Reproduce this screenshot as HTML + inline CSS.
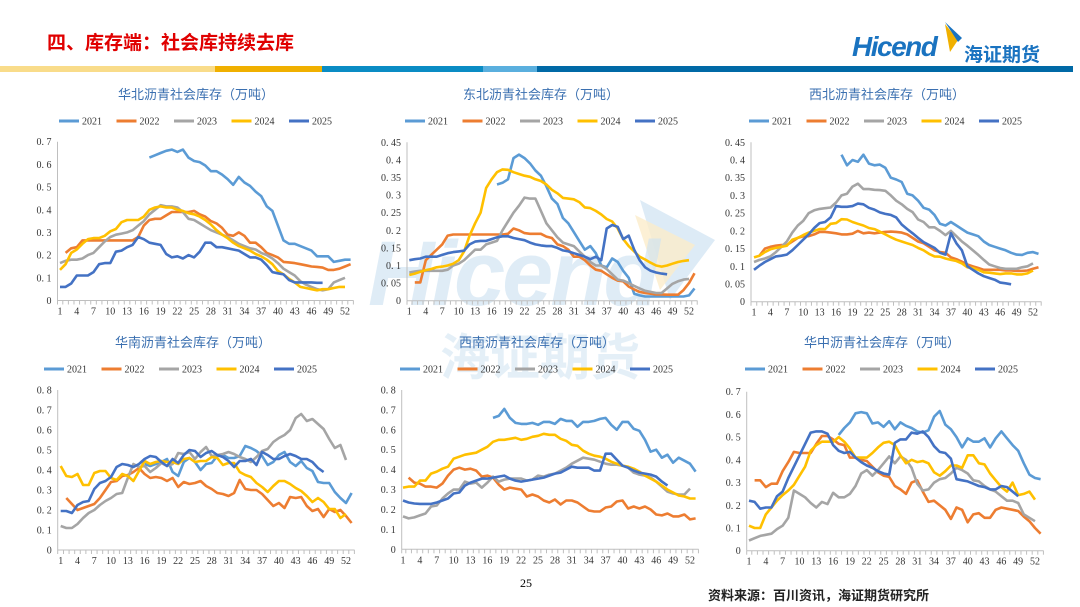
<!DOCTYPE html>
<html><head><meta charset="utf-8">
<style>
body{margin:0;width:1080px;height:607px;overflow:hidden;background:#fff;font-family:"Liberation Sans","Noto Sans CJK SC",sans-serif;position:relative}
.abs{position:absolute}
svg{position:absolute;left:0;top:0}
</style></head><body>
<div class="abs" style="left:47px;top:28px;font-size:19px;font-weight:bold;color:#e00000;font-family:'Liberation Sans','Noto Sans CJK SC',sans-serif">四、库存端：社会库持续去库</div>
<div class="abs" style="left:852px;top:31px;font-size:28px;font-weight:bold;font-style:italic;color:#1a73c0;letter-spacing:-1.5px">Hicend</div>
<svg width="1080" height="607" style="pointer-events:none"><polygon points="945,24 958,40 950,52" fill="#f0b000"/><polygon points="945,22 962,38 958,42" fill="#1a73c0"/></svg>
<div class="abs" style="left:964px;top:40px;font-size:19px;font-weight:bold;color:#1a73c0">海证期货</div>
<div class="abs" style="left:0;top:66px;width:1073px;height:6px;background:linear-gradient(90deg,#f9dc8a 0 215px,#f0b000 215px 322px,#0a8cc4 322px 483px,#5aafde 483px 537px,#0069a6 537px)"></div>
<svg width="1080" height="607" style="pointer-events:none"><polygon points="640,200 715,240 670,300" fill="#cfe3f2" opacity="0.7"/><polygon points="635,215 695,245 660,290" fill="#fbeccb" opacity="0.8"/></svg>
<div class="abs" style="left:368px;top:222px;font-size:92px;font-weight:bold;font-style:italic;color:#cfe3f2;opacity:0.65;letter-spacing:-3px">Hicend</div>
<div class="abs" style="left:440px;top:318px;font-size:50px;font-weight:bold;color:#d7e8f4;opacity:0.65">海证期货</div>
<div class="abs" style="left:520px;top:576px;font-size:12px;font-family:'Liberation Serif',serif">25</div>
<div class="abs" style="left:708px;top:585px;font-size:13px;font-weight:bold;color:#222">资料来源：百川资讯，海证期货研究所</div>
<svg id="chart" width="1080" height="607"></svg>
<script>
const years=['2021','2022','2023','2024','2025'];
const colors=['#5b9bd5','#ed7d31','#a5a5a5','#ffc000','#4472c4'];
const xTickLabels=[1,4,7,10,13,16,19,22,25,28,31,34,37,40,43,46,49,52];
const hbStart=[17,2,1,1,1];
const hb21=[.63,.64,.65,.66,.665,.655,.665,.63,.615,.61,.595,.57,.57,.555,.535,.51,.545,.52,.505,.48,.46,.415,.395,.33,.265,.25,.25,.24,.23,.22,.195,.195,.195,.17,.175,.18,.18];
const hb22=[.21,.23,.235,.265,.265,.265,.265,.265,.265,.265,.265,.265,.265,.28,.33,.355,.36,.36,.375,.39,.39,.39,.39,.395,.38,.37,.35,.34,.32,.29,.285,.3,.285,.255,.255,.235,.21,.2,.19,.17,.168,.165,.16,.155,.15,.148,.145,.135,.135,.14,.15,.16];
const hb23=[.165,.175,.18,.18,.185,.2,.21,.235,.26,.28,.29,.295,.3,.31,.33,.35,.38,.4,.42,.415,.415,.41,.39,.36,.355,.34,.325,.31,.3,.29,.28,.265,.25,.24,.23,.225,.21,.2,.185,.165,.14,.125,.11,.085,.07,.06,.05,.045,.05,.08,.09,.1];
const hb24=[.135,.16,.21,.225,.25,.27,.275,.275,.285,.305,.315,.345,.355,.355,.355,.37,.4,.41,.415,.41,.41,.4,.395,.385,.38,.37,.355,.335,.31,.29,.275,.255,.24,.23,.22,.205,.195,.18,.16,.13,.115,.095,.08,.06,.055,.05,.045,.05,.05,.055,.06,.06];
const hb25=[.06,.06,.075,.11,.11,.11,.125,.16,.165,.165,.215,.22,.235,.245,.28,.27,.255,.25,.245,.205,.19,.195,.185,.2,.19,.215,.255,.255,.235,.235,.23,.225,.22,.205,.19,.19,.18,.155,.125,.12,.115,.09,.08,.08,.08,.08,.078,.078];
const dbStart=[17,2,1,1,1];
const db21=[.33,.335,.345,.405,.415,.405,.39,.37,.355,.325,.29,.275,.235,.22,.195,.17,.145,.155,.135,.1,.095,.12,.11,.085,.065,.02,.015,.012,.012,.012,.012,.012,.012,.012,.012,.015,.035];
const db22=[.052,.052,.115,.13,.145,.16,.185,.188,.188,.188,.188,.188,.188,.188,.188,.188,.188,.19,.205,.2,.192,.19,.19,.19,.182,.178,.16,.155,.145,.125,.125,.115,.1,.088,.085,.075,.065,.057,.055,.04,.032,.025,.022,.02,.018,.018,.017,.017,.017,.03,.05,.078];
const db23=[.08,.083,.085,.085,.085,.085,.085,.088,.1,.105,.115,.13,.145,.145,.16,.165,.17,.2,.225,.25,.27,.293,.29,.29,.255,.22,.2,.18,.165,.16,.155,.14,.125,.11,.1,.1,.09,.075,.06,.057,.05,.042,.035,.028,.025,.022,.022,.035,.048,.055,.06,.062];
const db24=[.073,.077,.082,.087,.09,.095,.097,.1,.105,.115,.14,.185,.22,.25,.32,.345,.365,.373,.372,.365,.36,.355,.352,.345,.34,.33,.315,.305,.292,.29,.288,.28,.265,.263,.255,.245,.232,.225,.205,.175,.155,.14,.125,.117,.108,.1,.097,.1,.105,.11,.113,.115];
const db25=[.115,.118,.12,.125,.125,.125,.13,.135,.138,.14,.142,.16,.168,.17,.17,.175,.18,.183,.183,.178,.175,.172,.165,.16,.157,.155,.155,.15,.143,.14,.135,.13,.125,.118,.125,.115,.205,.215,.21,.175,.185,.145,.115,.095,.085,.08,.077,.075];
const xbStart=[17,2,1,1,1];
const xb21=[.415,.385,.4,.395,.415,.39,.385,.387,.378,.35,.345,.338,.305,.3,.285,.265,.26,.245,.22,.215,.225,.215,.205,.195,.19,.185,.17,.16,.155,.15,.145,.138,.133,.132,.138,.14,.135];
const xb22=[.13,.15,.155,.158,.16,.16,.17,.18,.185,.185,.19,.197,.197,.195,.193,.19,.19,.192,.2,.193,.195,.193,.195,.197,.198,.197,.195,.19,.18,.17,.165,.155,.145,.14,.138,.125,.12,.113,.105,.1,.095,.09,.09,.09,.09,.088,.088,.087,.087,.088,.093,.097];
const xb23=[.112,.118,.122,.128,.14,.155,.17,.195,.215,.228,.25,.258,.262,.264,.266,.28,.3,.305,.325,.333,.318,.318,.316,.315,.313,.3,.285,.275,.262,.253,.232,.225,.21,.21,.2,.188,.2,.185,.17,.158,.145,.132,.118,.105,.1,.095,.093,.093,.093,.097,.1,.108];
const xb24=[.125,.13,.14,.148,.152,.155,.158,.175,.18,.188,.195,.2,.205,.205,.22,.222,.233,.232,.225,.22,.215,.208,.205,.198,.19,.182,.175,.17,.165,.16,.152,.145,.135,.128,.127,.122,.118,.115,.108,.097,.095,.09,.083,.082,.08,.078,.08,.08,.077,.077,.08,.088];
const xb25=[.09,.102,.112,.12,.128,.13,.133,.145,.16,.175,.19,.208,.222,.225,.238,.27,.268,.268,.27,.277,.275,.265,.26,.252,.248,.245,.238,.218,.205,.193,.18,.168,.16,.152,.138,.133,.193,.165,.145,.1,.09,.08,.072,.067,.062,.054,.052,.049];
const hnStart=[16,2,1,1,1];
const hn21=[.43,.42,.43,.44,.455,.39,.37,.44,.46,.44,.4,.43,.435,.47,.475,.46,.46,.47,.52,.51,.495,.47,.425,.44,.475,.49,.44,.42,.445,.41,.395,.34,.335,.335,.29,.26,.235,.285];
const hn22=[.26,.23,.2,.21,.22,.23,.26,.3,.34,.345,.37,.375,.39,.41,.38,.36,.365,.36,.345,.36,.315,.34,.33,.335,.345,.32,.305,.285,.28,.27,.285,.35,.305,.3,.3,.28,.25,.22,.235,.21,.265,.26,.265,.22,.195,.205,.165,.205,.19,.2,.17,.135];
const hn23=[.12,.11,.11,.13,.16,.185,.2,.225,.245,.26,.28,.285,.36,.43,.415,.42,.39,.41,.435,.42,.43,.485,.48,.49,.455,.49,.515,.47,.475,.48,.49,.48,.465,.455,.44,.465,.495,.505,.54,.56,.575,.6,.66,.68,.645,.655,.63,.605,.555,.51,.525,.45];
const hn24=[.42,.37,.365,.38,.325,.325,.385,.395,.395,.36,.35,.38,.37,.345,.395,.445,.43,.44,.445,.44,.44,.43,.455,.46,.44,.445,.445,.465,.46,.425,.435,.435,.39,.375,.365,.335,.315,.29,.32,.345,.345,.33,.31,.295,.27,.24,.26,.24,.205,.205,.16,.18];
const hn25=[.195,.195,.185,.225,.24,.245,.305,.335,.345,.365,.415,.43,.425,.415,.43,.455,.47,.465,.44,.42,.455,.435,.475,.5,.495,.465,.485,.495,.475,.465,.445,.415,.445,.445,.455,.425,.49,.475,.455,.455,.47,.48,.47,.455,.455,.44,.41,.39];
const xnStart=[17,2,1,1,1];
const xn21=[.66,.67,.705,.66,.635,.63,.63,.635,.625,.64,.64,.63,.655,.645,.645,.615,.64,.64,.645,.655,.66,.625,.6,.64,.64,.605,.595,.55,.49,.5,.46,.475,.435,.46,.445,.43,.39];
const xn22=[.36,.335,.33,.315,.315,.31,.33,.37,.4,.41,.4,.405,.395,.365,.37,.36,.325,.3,.31,.305,.3,.265,.275,.265,.245,.235,.25,.225,.245,.245,.235,.215,.195,.19,.19,.21,.215,.24,.245,.205,.215,.205,.215,.2,.175,.17,.18,.165,.165,.175,.15,.155];
const xn23=[.165,.155,.16,.17,.18,.215,.22,.255,.28,.3,.3,.34,.33,.335,.31,.335,.365,.34,.35,.355,.355,.355,.345,.35,.37,.365,.375,.38,.395,.41,.43,.445,.46,.455,.45,.44,.43,.425,.425,.42,.41,.385,.375,.37,.36,.34,.315,.29,.28,.275,.275,.305];
const xn24=[.31,.315,.315,.345,.345,.38,.39,.405,.415,.455,.465,.475,.48,.485,.5,.515,.54,.55,.55,.555,.56,.55,.555,.565,.57,.58,.575,.575,.555,.545,.525,.52,.495,.48,.47,.465,.455,.44,.43,.42,.415,.405,.39,.37,.355,.34,.32,.3,.285,.27,.265,.255,.255];
const xn25=[.245,.235,.23,.228,.228,.228,.235,.245,.255,.28,.285,.32,.335,.345,.355,.355,.36,.365,.37,.355,.345,.34,.345,.35,.355,.36,.37,.38,.385,.4,.415,.41,.41,.41,.395,.395,.48,.48,.45,.42,.41,.395,.385,.38,.375,.365,.34,.32];
const hzStart=[17,2,1,1,1];
const hz21=[.51,.54,.565,.605,.61,.605,.56,.565,.545,.57,.535,.565,.55,.54,.525,.52,.53,.59,.615,.555,.535,.5,.455,.495,.48,.48,.495,.455,.495,.525,.495,.465,.44,.385,.335,.32,.315];
const hz22=[.31,.31,.28,.295,.295,.35,.39,.435,.43,.43,.43,.47,.505,.505,.49,.47,.465,.41,.41,.4,.395,.37,.345,.33,.325,.285,.27,.25,.3,.31,.26,.215,.22,.2,.18,.14,.19,.18,.125,.16,.165,.145,.145,.18,.19,.185,.18,.175,.15,.13,.1,.075];
const hz23=[.045,.055,.065,.07,.075,.095,.11,.145,.265,.25,.235,.21,.19,.215,.205,.255,.235,.235,.25,.285,.34,.355,.33,.355,.385,.415,.385,.415,.4,.365,.295,.265,.27,.3,.315,.32,.34,.365,.355,.34,.31,.305,.285,.27,.26,.24,.22,.22,.21,.16,.145,.13];
const hz24=[.11,.1,.1,.16,.19,.22,.245,.265,.29,.33,.37,.44,.465,.48,.48,.48,.5,.48,.45,.41,.41,.41,.43,.455,.475,.48,.465,.42,.385,.4,.39,.395,.385,.345,.33,.35,.375,.375,.365,.42,.42,.385,.38,.34,.31,.28,.26,.3,.245,.25,.26,.225];
const hz25=[.22,.215,.185,.19,.19,.24,.26,.32,.37,.42,.47,.52,.525,.525,.515,.465,.44,.43,.435,.41,.39,.375,.365,.35,.34,.335,.475,.49,.49,.52,.515,.525,.5,.46,.435,.43,.405,.315,.31,.305,.295,.285,.28,.27,.27,.285,.28,.26,.24];

const NS='http://www.w3.org/2000/svg';
const svg=document.getElementById('chart');
function mk(tag,attrs,parent){const e=document.createElementNS(NS,tag);for(const k in attrs)e.setAttribute(k,attrs[k]);(parent||svg).appendChild(e);return e;}

function drawPanel(p){
  const g=mk('g',{});
  
  
  const step=(p.x52-p.x1)/51;
  const xs=w=>p.x1+(w-1)*step;
  const ys=v=>p.y0-(v/p.ymax)*(p.y0-p.yTop);
  const xEnd=xs(53)+3;
  const t=mk('text',{x:p.tx,y:p.ty,'text-anchor':'middle','font-size':13,fill:'#3a6fb0','font-family':'"Liberation Sans","Noto Sans CJK SC",sans-serif'},g);
  t.textContent=p.title;
  
  
  years.forEach((yr,i)=>{
    const lx=p.lx+i*57.5;
    const l=mk('line',{x1:lx,x2:lx+20,y1:p.ly,y2:p.ly,stroke:colors[i],'stroke-width':3},g);
    
    
    const tt=mk('text',{x:lx+23,y:p.ly+3.5,'font-size':10,fill:'#333','font-family':'"Liberation Serif",serif'},g);
    tt.textContent=yr;
    
    
  });
  const ya=mk('line',{x1:p.L,x2:p.L,y1:p.yTop,y2:p.y0,stroke:'#bfbfbf','stroke-width':1},g);
  
  
  const xa=mk('line',{x1:p.L,x2:xEnd,y1:p.y0,y2:p.y0,stroke:'#bfbfbf','stroke-width':1},g);
  
  
  for(let w=1;w<=53;w++){
    const tx=xs(w)+step/2;
    mk('line',{x1:tx,x2:tx,y1:p.y0,y2:p.y0+4,stroke:'#bfbfbf','stroke-width':1},g);
  }
  mk('line',{x1:p.L,x2:p.L,y1:p.y0,y2:p.y0+4,stroke:'#bfbfbf','stroke-width':1},g);
  xTickLabels.forEach(w=>{
    const tl=mk('text',{x:xs(w),y:p.y0+14,'text-anchor':'middle','font-size':10,fill:'#333','font-family':'"Liberation Serif",serif'},g);
    tl.textContent=w;
    
    
  });
  p.yTicks.forEach(v=>{
    const yl=mk('text',{x:p.L-6,y:ys(v)+3.5,'text-anchor':'end','font-size':10,fill:'#333','font-family':'"Liberation Serif",serif'},g);
    yl.textContent=v===0?'0':String(v).replace('.','. ');
    
    
  });
  p.series.forEach((arr,i)=>{
    const s=p.starts[i];
    const pts=arr.map((v,k)=>xs(s+k).toFixed(1)+','+ys(v).toFixed(1)).join(' ');
    const pl=mk('polyline',{points:pts,fill:'none',stroke:colors[i],'stroke-width':2.6,'stroke-linejoin':'round'},g);
    
    
  });
}
const t07=[0,0.1,0.2,0.3,0.4,0.5,0.6,0.7];
const t045=[0,0.05,0.1,0.15,0.2,0.25,0.3,0.35,0.4,0.45];
const t08=[0,0.1,0.2,0.3,0.4,0.5,0.6,0.7,0.8];
drawPanel({name:'north-china-chart',title:'华北沥青社会库存（万吨）',tx:196,ty:99,lx:59,ly:121,L:57.5,x1:60,x52:345,y0:300.5,yTop:141.7,ymax:0.7,yTicks:t07,starts:hbStart,series:[hb21,hb22,hb23,hb24,hb25]});
drawPanel({name:'northeast-chart',title:'东北沥青社会库存（万吨）',tx:541,ty:99,lx:405,ly:121,L:407,x1:409.3,x52:689,y0:300.7,yTop:142.3,ymax:0.45,yTicks:t045,starts:dbStart,series:[db21,db22,db23,db24,db25]});
drawPanel({name:'northwest-chart',title:'西北沥青社会库存（万吨）',tx:887,ty:99,lx:749,ly:121,L:751,x1:754,x52:1033,y0:301.7,yTop:142.3,ymax:0.45,yTicks:t045,starts:xbStart,series:[xb21,xb22,xb23,xb24,xb25]});
drawPanel({name:'south-china-chart',title:'华南沥青社会库存（万吨）',tx:193,ty:347,lx:44,ly:369,L:57.7,x1:60.7,x52:346,y0:550,yTop:390,ymax:0.8,yTicks:t08,starts:hnStart,series:[hn21,hn22,hn23,hn24,hn25]});
drawPanel({name:'southwest-chart',title:'西南沥青社会库存（万吨）',tx:537,ty:347,lx:400,ly:369,L:401.7,x1:403,x52:690,y0:549.3,yTop:390,ymax:0.8,yTicks:t08,starts:xnStart,series:[xn21,xn22,xn23,xn24,xn25]});
drawPanel({name:'central-china-chart',title:'华中沥青社会库存（万吨）',tx:882,ty:347,lx:745,ly:369,L:746.7,x1:749,x52:1035,y0:550.7,yTop:391.7,ymax:0.7,yTicks:t07,starts:hzStart,series:[hz21,hz22,hz23,hz24,hz25]});
</script>
</body></html>
